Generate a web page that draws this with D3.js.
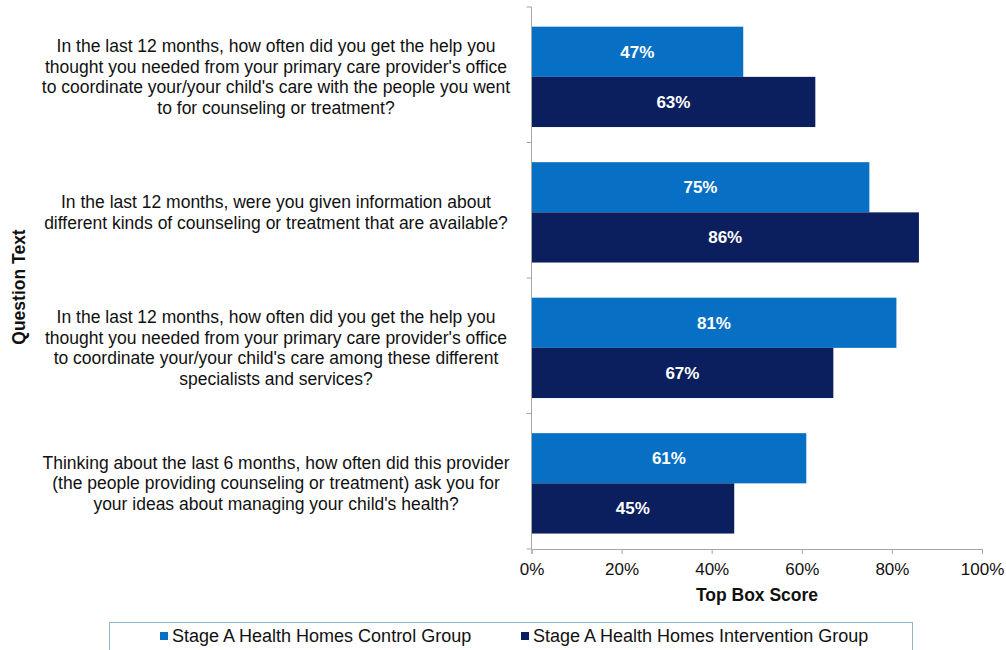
<!DOCTYPE html>
<html>
<head>
<meta charset="utf-8">
<script src="https://cdn.jsdelivr.net/npm/d3@7/dist/d3.min.js"></script>
<style>
  html, body { margin: 0; padding: 0; background: #fff; }
  svg { display: block; }
  text { font-family: "Liberation Sans", Arial, sans-serif; }
</style>
</head>
<body>
<svg id="chart" width="1006" height="650"></svg>
<script>
// Survey questions (one per line of wrapped label text)
const questions = [
  ["In the last 12 months, how often did you get the help you",
   "thought you needed from your primary care provider's office",
   "to coordinate your/your child's care with the people you went",
   "to for counseling or treatment?"],
  ["In the last 12 months, were you given information about",
   "different kinds of counseling or treatment that are available?"],
  ["In the last 12 months, how often did you get the help you",
   "thought you needed from your primary care provider's office",
   "to coordinate your/your child's care among these different",
   "specialists and services?"],
  ["Thinking about the last 6 months, how often did this provider",
   "(the people providing counseling or treatment) ask you for",
   "your ideas about managing your child's health?"]
];
const seriesNames = ["Stage A Health Homes Control Group", "Stage A Health Homes Intervention Group"];
const controlValues = [47, 75, 81, 61];
const interventionValues = [63, 86, 67, 45];
const xTicks = [0, 20, 40, 60, 80, 100];
const colors = ["#0870c4", "#0b1f5e"];

const svg = d3.select("#chart");
const plotLeft = 531.5, plotRight = 982, plotTop = 7, plotBottom = 549;

const qIndex = questions.map((q, i) => i);
const x = d3.scaleLinear().domain([0, 100]).range([plotLeft, plotRight]);
const y0 = d3.scaleBand().domain(qIndex).range([plotTop, plotBottom]).padding(0);
const y1 = d3.scaleBand().domain([0, 1]).range([0, y0.bandwidth()])
  .paddingInner(0).paddingOuter(0.35).align(0.56);

const data = qIndex.map(i => ({ i, values: [controlValues[i], interventionValues[i]] }));

// Bars
const groups = svg.append("g").selectAll("g").data(data).join("g")
  .attr("transform", d => `translate(0,${y0(d.i)})`);
groups.selectAll("rect").data(d => d.values.map((v, s) => ({ v, s }))).join("rect")
  .attr("x", x(0))
  .attr("y", d => y1(d.s))
  .attr("width", d => x(d.v) - x(0))
  .attr("height", y1.bandwidth())
  .attr("fill", d => colors[d.s]);
groups.selectAll("text.val").data(d => d.values.map((v, s) => ({ v, s }))).join("text")
  .attr("class", "val")
  .attr("x", d => (x(0) + x(d.v)) / 2)
  .attr("y", d => y1(d.s) + y1.bandwidth() / 2)
  .attr("dy", "0.35em")
  .attr("text-anchor", "middle")
  .attr("fill", "#fff")
  .attr("font-size", 17)
  .attr("font-weight", "bold")
  .text(d => d.v + "%");

// Axes
const axisColor = "#a6a6a6";
const yAxis = svg.append("g");
yAxis.append("line").attr("x1", plotLeft).attr("x2", plotLeft).attr("y1", plotTop).attr("y2", plotBottom)
  .attr("stroke", axisColor);
yAxis.selectAll("line.tick").data(d3.range(questions.length + 1)).join("line")
  .attr("class", "tick")
  .attr("x1", plotLeft - 5).attr("x2", plotLeft)
  .attr("y1", d => plotTop + d * y0.step()).attr("y2", d => plotTop + d * y0.step())
  .attr("stroke", axisColor);

const xAxis = svg.append("g").attr("transform", `translate(0,${plotBottom})`)
  .call(d3.axisBottom(x).tickValues(xTicks).tickFormat(d => d + "%").tickSize(5).tickPadding(9));
xAxis.select(".domain").attr("stroke", axisColor);
xAxis.selectAll(".tick line").attr("stroke", axisColor);
xAxis.selectAll(".tick text").attr("font-size", 17).attr("fill", "#111")
  .attr("font-family", "'Liberation Sans', Arial, sans-serif");

// Question labels
const labelX = 276;
const lineH = 20.5;
svg.append("g").selectAll("text").data(data).join("text")
  .attr("text-anchor", "middle")
  .attr("font-size", 17.5)
  .attr("fill", "#111")
  .each(function (d) {
    const lines = questions[d.i];
    const cy = y0(d.i) + y0.bandwidth() / 2 + 2;
    const startY = cy - (lines.length - 1) * lineH / 2;
    d3.select(this).selectAll("tspan").data(lines).join("tspan")
      .attr("x", labelX)
      .attr("y", (l, k) => startY + k * lineH)
      .attr("dy", "0.35em")
      .text(l => l);
  });

// Axis titles
svg.append("text")
  .attr("transform", `translate(19,287) rotate(-90)`)
  .attr("text-anchor", "middle")
  .attr("dy", "0.35em")
  .attr("font-size", 17.5)
  .attr("font-weight", "bold")
  .attr("fill", "#111")
  .text("Question Text");
svg.append("text")
  .attr("x", 757).attr("y", 595)
  .attr("dy", "0.35em")
  .attr("text-anchor", "middle")
  .attr("font-size", 17.5)
  .attr("font-weight", "bold")
  .attr("fill", "#111")
  .text("Top Box Score");

// Legend
const legend = svg.append("g");
legend.append("rect")
  .attr("x", 109.5).attr("y", 622.5).attr("width", 803).attr("height", 40)
  .attr("fill", "#fff").attr("stroke", "#8fb5c8");
const legendX = [160, 521];
const items = legend.selectAll("g.item").data(seriesNames).join("g")
  .attr("class", "item")
  .attr("transform", (d, i) => `translate(${legendX[i]},636)`);
items.append("rect").attr("x", 0).attr("y", -4).attr("width", 8).attr("height", 8)
  .attr("fill", (d, i) => colors[i]);
items.append("text").attr("x", 12).attr("dy", "0.35em")
  .attr("font-size", 18).attr("fill", "#111")
  .text(d => d);
</script>
</body>
</html>
